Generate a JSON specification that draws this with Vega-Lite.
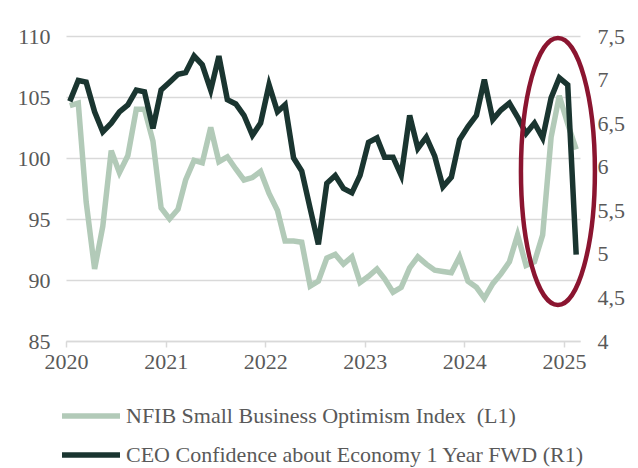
{
  "$schema": "https://vega.github.io/schema/vega-lite/v6.json",
  "width": 514,
  "height": 305,
  "autosize": {"type": "none"},
  "padding": {"left": 66, "top": 36, "right": 58, "bottom": 127},
  "background": "white",
  "config": {
    "font": "Liberation Serif",
    "view": {"stroke": null},
    "axis": {"labelFont": "Liberation Serif", "labelFontSize": 22, "labelColor": "#595959", "title": null},
    "legend": {"labelFont": "Liberation Serif", "labelFontSize": 22, "labelColor": "#595959"}
  },
  "datasets": {
    "nfib": [
      {"date": "2020-01-15", "value": 104.3}, {"date": "2020-02-15", "value": 104.5}, {"date": "2020-03-15", "value": 96.4},
      {"date": "2020-04-15", "value": 90.9}, {"date": "2020-05-15", "value": 94.4}, {"date": "2020-06-15", "value": 100.6},
      {"date": "2020-07-15", "value": 98.8}, {"date": "2020-08-15", "value": 100.2}, {"date": "2020-09-15", "value": 104.0},
      {"date": "2020-10-15", "value": 104.0}, {"date": "2020-11-15", "value": 101.4}, {"date": "2020-12-15", "value": 95.9},
      {"date": "2021-01-15", "value": 95.0}, {"date": "2021-02-15", "value": 95.8}, {"date": "2021-03-15", "value": 98.2},
      {"date": "2021-04-15", "value": 99.8}, {"date": "2021-05-15", "value": 99.6}, {"date": "2021-06-15", "value": 102.5},
      {"date": "2021-07-15", "value": 99.7}, {"date": "2021-08-15", "value": 100.1}, {"date": "2021-09-15", "value": 99.1},
      {"date": "2021-10-15", "value": 98.2}, {"date": "2021-11-15", "value": 98.4}, {"date": "2021-12-15", "value": 98.9},
      {"date": "2022-01-15", "value": 97.1}, {"date": "2022-02-15", "value": 95.7}, {"date": "2022-03-15", "value": 93.2},
      {"date": "2022-04-15", "value": 93.2}, {"date": "2022-05-15", "value": 93.1}, {"date": "2022-06-15", "value": 89.5},
      {"date": "2022-07-15", "value": 89.9}, {"date": "2022-08-15", "value": 91.8}, {"date": "2022-09-15", "value": 92.1},
      {"date": "2022-10-15", "value": 91.3}, {"date": "2022-11-15", "value": 91.9}, {"date": "2022-12-15", "value": 89.8},
      {"date": "2023-01-15", "value": 90.3}, {"date": "2023-02-15", "value": 90.9}, {"date": "2023-03-15", "value": 90.1},
      {"date": "2023-04-15", "value": 89.0}, {"date": "2023-05-15", "value": 89.4}, {"date": "2023-06-15", "value": 91.0},
      {"date": "2023-07-15", "value": 91.9}, {"date": "2023-08-15", "value": 91.3}, {"date": "2023-09-15", "value": 90.8},
      {"date": "2023-10-15", "value": 90.7}, {"date": "2023-11-15", "value": 90.6}, {"date": "2023-12-15", "value": 91.9},
      {"date": "2024-01-15", "value": 89.9}, {"date": "2024-02-15", "value": 89.4}, {"date": "2024-03-15", "value": 88.5},
      {"date": "2024-04-15", "value": 89.7}, {"date": "2024-05-15", "value": 90.5}, {"date": "2024-06-15", "value": 91.5},
      {"date": "2024-07-15", "value": 93.7}, {"date": "2024-08-15", "value": 91.2}, {"date": "2024-09-15", "value": 91.5},
      {"date": "2024-10-15", "value": 93.7}, {"date": "2024-11-15", "value": 101.7}, {"date": "2024-12-15", "value": 105.1},
      {"date": "2025-01-15", "value": 102.8}, {"date": "2025-02-15", "value": 100.7}
    ],
    "ceo": [
      {"date": "2020-01-15", "value": 6.75}, {"date": "2020-02-15", "value": 6.99}, {"date": "2020-03-15", "value": 6.97},
      {"date": "2020-04-15", "value": 6.63}, {"date": "2020-05-15", "value": 6.40}, {"date": "2020-06-15", "value": 6.50},
      {"date": "2020-07-15", "value": 6.63}, {"date": "2020-08-15", "value": 6.71}, {"date": "2020-09-15", "value": 6.88},
      {"date": "2020-10-15", "value": 6.86}, {"date": "2020-11-15", "value": 6.44}, {"date": "2020-12-15", "value": 6.88},
      {"date": "2021-01-15", "value": 6.97}, {"date": "2021-02-15", "value": 7.06}, {"date": "2021-03-15", "value": 7.08},
      {"date": "2021-04-15", "value": 7.27}, {"date": "2021-05-15", "value": 7.17}, {"date": "2021-06-15", "value": 6.88},
      {"date": "2021-07-15", "value": 7.27}, {"date": "2021-08-15", "value": 6.77}, {"date": "2021-09-15", "value": 6.72},
      {"date": "2021-10-15", "value": 6.59}, {"date": "2021-11-15", "value": 6.36}, {"date": "2021-12-15", "value": 6.50},
      {"date": "2022-01-15", "value": 6.94}, {"date": "2022-02-15", "value": 6.63}, {"date": "2022-03-15", "value": 6.71},
      {"date": "2022-04-15", "value": 6.10}, {"date": "2022-05-15", "value": 5.95}, {"date": "2022-06-15", "value": 5.52},
      {"date": "2022-07-15", "value": 5.11}, {"date": "2022-08-15", "value": 5.81}, {"date": "2022-09-15", "value": 5.90},
      {"date": "2022-10-15", "value": 5.75}, {"date": "2022-11-15", "value": 5.70}, {"date": "2022-12-15", "value": 5.90},
      {"date": "2023-01-15", "value": 6.28}, {"date": "2023-02-15", "value": 6.33}, {"date": "2023-03-15", "value": 6.11},
      {"date": "2023-04-15", "value": 6.11}, {"date": "2023-05-15", "value": 5.90}, {"date": "2023-06-15", "value": 6.59},
      {"date": "2023-07-15", "value": 6.21}, {"date": "2023-08-15", "value": 6.34}, {"date": "2023-09-15", "value": 6.12},
      {"date": "2023-10-15", "value": 5.77}, {"date": "2023-11-15", "value": 5.88}, {"date": "2023-12-15", "value": 6.31},
      {"date": "2024-01-15", "value": 6.46}, {"date": "2024-02-15", "value": 6.59}, {"date": "2024-03-15", "value": 7.00},
      {"date": "2024-04-15", "value": 6.54}, {"date": "2024-05-15", "value": 6.65}, {"date": "2024-06-15", "value": 6.73},
      {"date": "2024-07-15", "value": 6.57}, {"date": "2024-08-15", "value": 6.38}, {"date": "2024-09-15", "value": 6.50},
      {"date": "2024-10-15", "value": 6.33}, {"date": "2024-11-15", "value": 6.79}, {"date": "2024-12-15", "value": 7.02},
      {"date": "2025-01-15", "value": 6.94}, {"date": "2025-02-15", "value": 4.99}
    ],
    "highlight": [{"date": "2024-12-10", "value": 98.9}]
  },
  "layer": [
    {
      "data": {"name": "nfib"},
      "mark": {"type": "line", "strokeWidth": 5.5, "strokeJoin": "miter"},
      "encoding": {
        "x": {
          "field": "date", "type": "temporal",
          "scale": {"domain": [{"year": 2020, "month": 1, "date": 1, "utc": true}, {"year": 2025, "month": 3, "date": 1, "utc": true}]},
          "axis": {
            "format": "%Y", "tickCount": {"interval": "year", "step": 1}, "grid": false, "labelFlush": false,
            "domainColor": "#d9d9d9", "domainWidth": 1.5, "tickColor": "#d9d9d9", "tickWidth": 1.5, "tickSize": 6,
            "labelPadding": 4
          }
        },
        "y": {
          "field": "value", "type": "quantitative",
          "scale": {"domain": [85, 110], "nice": false, "zero": false},
          "axis": {
            "orient": "left", "values": [85, 90, 95, 100, 105, 110], "grid": true, "gridColor": "#d9d9d9", "gridWidth": 1.5,
            "domain": false, "ticks": false, "tickSize": 0, "labelPadding": 16
          }
        },
        "color": {
          "datum": "NFIB Small Business Optimism Index\u00a0 (L1)",
          "scale": {"range": ["#b2cab8"]},
          "legend": {
            "orient": "none", "legendX": -7, "legendY": 348, "title": null, "padding": 0,
            "symbolType": "stroke", "symbolSize": 3364, "symbolStrokeWidth": 5.5, "labelOffset": 3, "labelLimit": 0
          }
        }
      }
    },
    {
      "data": {"name": "ceo"},
      "mark": {"type": "line", "strokeWidth": 5.5, "strokeJoin": "miter"},
      "encoding": {
        "x": {"field": "date", "type": "temporal"},
        "y": {
          "field": "value", "type": "quantitative",
          "scale": {"domain": [4, 7.5], "nice": false, "zero": false},
          "axis": {
            "orient": "right", "values": [4, 4.5, 5, 5.5, 6, 6.5, 7, 7.5], "grid": false,
            "domain": false, "ticks": false, "tickSize": 0, "labelPadding": 17,
            "labelExpr": "replace(format(datum.value, '~g'), '.', ',')"
          }
        },
        "color": {
          "datum": "CEO Confidence about Economy 1 Year FWD (R1)",
          "scale": {"range": ["#1a3530"]},
          "legend": {
            "orient": "none", "legendX": -7, "legendY": 387, "title": null, "padding": 0,
            "symbolType": "stroke", "symbolSize": 3364, "symbolStrokeWidth": 5.5, "labelOffset": 3, "labelLimit": 0
          }
        }
      }
    },
    {
      "data": {"name": "highlight"},
      "mark": {
        "type": "point",
        "shape": "M0,-1A0.277,1 0 1,1 0,1A0.277,1 0 1,1 0,-1Z",
        "size": 71289, "filled": false, "stroke": "#8b1530", "strokeWidth": 4.5, "opacity": 1
      },
      "encoding": {
        "x": {"field": "date", "type": "temporal"},
        "y": {"field": "value", "type": "quantitative", "scale": {"domain": [85, 110], "nice": false, "zero": false}, "axis": null}
      }
    }
  ],
  "resolve": {"scale": {"y": "independent", "color": "independent"}, "legend": {"color": "independent"}}
}
